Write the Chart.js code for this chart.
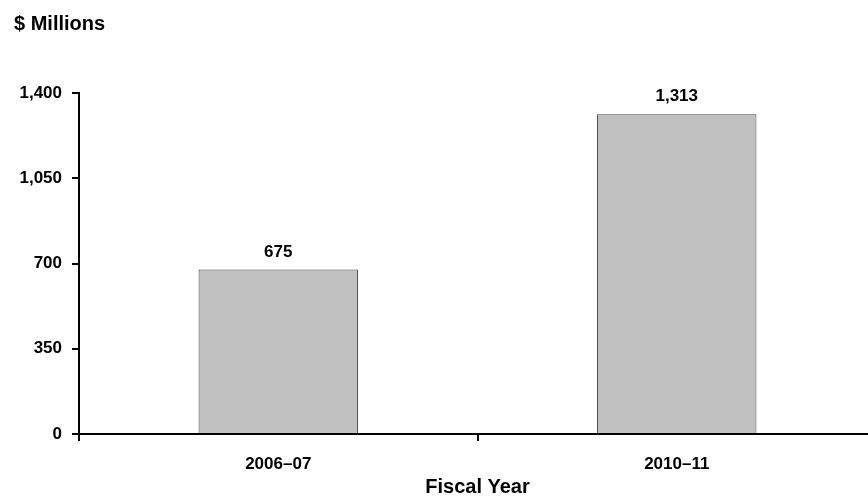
<!DOCTYPE html>
<html>
<head>
<meta charset="utf-8">
<title>Spending by Fiscal Year</title>
<script src="https://cdn.jsdelivr.net/npm/chart.js@4/dist/chart.umd.min.js"></script>
<style>
  html, body { margin: 0; padding: 0; background: #fff; overflow: hidden; }
  #wrap { width: 880px; height: 496px; }
</style>
</head>
<body>
<div id="wrap"><canvas id="myChart" width="880" height="496"></canvas></div>
<script>
const fiscalYears = ['2006\u201307', '2010\u201311'];
const millions = [675, 1313];
const yTicks = [0, 350, 700, 1050, 1400];

const FONT = "'Liberation Sans', Arial, sans-serif";
Chart.defaults.font.family = FONT;
Chart.defaults.font.weight = 'bold';
Chart.defaults.color = '#000';

// value above each bar plus the units caption in the corner
const barLabels = {
    id: 'barLabels',
    afterDatasetsDraw(chart) {
        const ctx = chart.ctx;
        ctx.save();
        ctx.fillStyle = '#000';
        ctx.font = 'bold 17px ' + FONT;
        ctx.textAlign = 'center';
        ctx.textBaseline = 'alphabetic';
        chart.getDatasetMeta(0).data.forEach((bar, i) => {
            ctx.fillText(millions[i].toLocaleString('en-US'), bar.x, bar.y - 13);
        });
        ctx.font = 'bold 20px ' + FONT;
        ctx.textAlign = 'left';
        ctx.textBaseline = 'middle';
        ctx.fillText('$ Millions', 14, 24);
        ctx.restore();
    }
};

const chartCtx = document.getElementById('myChart').getContext('2d');
new Chart(chartCtx, {
    type: 'bar',
    data: {
        labels: fiscalYears,
        datasets: [{
            data: millions,
            backgroundColor: '#c0c0c0',
            borderColor: '#404040',
            borderWidth: 1,
            categoryPercentage: 1,
            barPercentage: 0.4
        }]
    },
    options: {
        responsive: false,
        animation: false,
        devicePixelRatio: 1,
        layout: { padding: { top: 93, right: 4, bottom: 0, left: 0 } },
        plugins: {
            legend: { display: false },
            tooltip: { enabled: false }
        },
        scales: {
            x: {
                afterFit: scale => { scale.height = 62; },
                grid: {
                    drawOnChartArea: false,
                    color: '#000',
                    lineWidth: 2,
                    tickLength: 7
                },
                border: { color: '#000', width: 2 },
                ticks: { font: { size: 17, weight: 'bold' }, padding: 13 },
                title: {
                    display: true,
                    text: 'Fiscal Year',
                    font: { size: 20, weight: 'bold', lineHeight: 1 },
                    padding: { top: 0, bottom: -1 }
                }
            },
            y: {
                min: 0,
                max: 1400,
                afterFit: scale => { scale.width = 79; },
                afterBuildTicks: scale => { scale.ticks = yTicks.map(v => ({ value: v })); },
                grid: {
                    drawOnChartArea: false,
                    color: '#000',
                    lineWidth: 2,
                    tickLength: 7
                },
                border: { color: '#000', width: 2 },
                ticks: {
                    font: { size: 17, weight: 'bold' },
                    padding: 10,
                    callback: v => v.toLocaleString('en-US')
                }
            }
        }
    },
    plugins: [barLabels]
});
</script>
</body>
</html>
